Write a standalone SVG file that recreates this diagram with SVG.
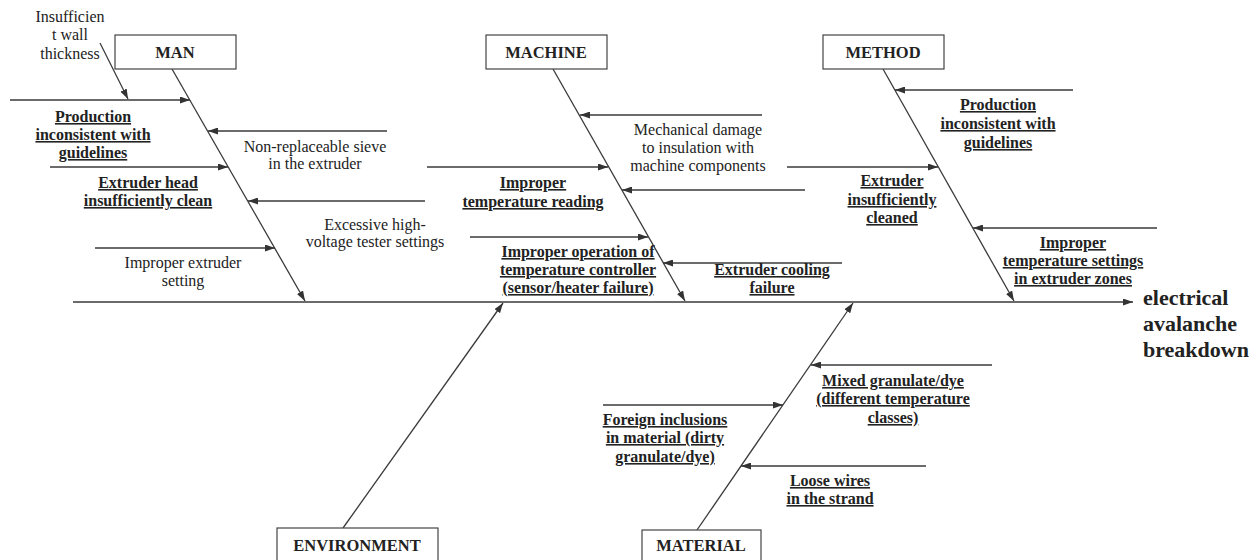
<svg xmlns="http://www.w3.org/2000/svg" width="1252" height="560" viewBox="0 0 1252 560">
<defs>
<marker id="ah" markerWidth="10" markerHeight="7" refX="10" refY="3.5" orient="auto" markerUnits="userSpaceOnUse">
<path d="M0,0 L10,3.5 L0,7 z" fill="#333"/>
</marker>
<style>
.ln{stroke:#3a3a3a;stroke-width:1.3;fill:none}
.ar{stroke:#3a3a3a;stroke-width:1.3;fill:none;marker-end:url(#ah)}
.box{fill:#fff;stroke:#444;stroke-width:1.2}
text{font-family:"Liberation Serif","Times New Roman",serif;fill:#222;text-anchor:middle}
.r{font-size:16px}
.b{font-size:16px;font-weight:bold;text-decoration:underline}
.h{font-size:16.5px;font-weight:bold}
.e{font-size:22px;font-weight:bold;text-anchor:start}
</style>
</defs>
<rect width="1252" height="560" fill="#fff"/>
<g id="connectors">
<line class="ar" x1="73" y1="302" x2="1133" y2="302"/>
<line class="ar" x1="172" y1="69" x2="305" y2="301"/>
<line class="ar" x1="553" y1="69" x2="685" y2="301"/>
<line class="ar" x1="883" y1="69" x2="1014" y2="301"/>
<line class="ar" x1="343" y1="528" x2="503" y2="303"/>
<line class="ar" x1="697" y1="530" x2="853" y2="303"/>
<line class="ar" x1="100" y1="43" x2="128" y2="99"/>
<line class="ar" x1="10" y1="100" x2="190" y2="100"/>
<line class="ar" x1="387" y1="131" x2="208" y2="131"/>
<line class="ar" x1="50" y1="167" x2="228" y2="167"/>
<line class="ar" x1="425" y1="201" x2="248" y2="201"/>
<line class="ar" x1="95" y1="248" x2="275" y2="248"/>
<line class="ar" x1="762" y1="115" x2="580" y2="115"/>
<line class="ar" x1="427" y1="167" x2="608" y2="167"/>
<line class="ar" x1="805" y1="190" x2="622" y2="190"/>
<line class="ar" x1="470" y1="237" x2="648" y2="237"/>
<line class="ar" x1="842" y1="263" x2="663" y2="263"/>
<line class="ar" x1="1073" y1="90" x2="895" y2="90"/>
<line class="ar" x1="787" y1="167" x2="938" y2="167"/>
<line class="ar" x1="1157" y1="228" x2="973" y2="228"/>
<line class="ar" x1="992" y1="365" x2="811" y2="365"/>
<line class="ar" x1="603" y1="405" x2="783" y2="405"/>
<line class="ar" x1="926" y1="466" x2="741" y2="466"/>
</g>
<g id="man">
<rect class="box" x="115" y="35" width="121" height="34"/>
<text class="h" x="175" y="58">MAN</text>
</g>
<g id="machine">
<rect class="box" x="486" y="35" width="121" height="34"/>
<text class="h" x="546" y="58">MACHINE</text>
</g>
<g id="method">
<rect class="box" x="823" y="35" width="121" height="34"/>
<text class="h" x="883" y="58">METHOD</text>
</g>
<g id="environment">
<rect class="box" x="277" y="528" width="161" height="40"/>
<text class="h" x="357" y="551">ENVIRONMENT</text>
</g>
<g id="material">
<rect class="box" x="642" y="530" width="119" height="40"/>
<text class="h" x="701" y="551">MATERIAL</text>
</g>
<g id="effect">
<text class="e" x="1143" y="305">electrical</text>
<text class="e" x="1143" y="331">avalanche</text>
<text class="e" x="1143" y="357">breakdown</text>
</g>
<g id="man-causes">
<text class="r" x="70" y="22">Insufficien</text>
<text class="r" x="70" y="40">t wall</text>
<text class="r" x="70" y="59">thickness</text>
<text class="b" x="93" y="122">Production</text>
<text class="b" x="93" y="140">inconsistent with</text>
<text class="b" x="93" y="158">guidelines</text>
<text class="r" x="315" y="152">Non-replaceable sieve</text>
<text class="r" x="315" y="169">in the extruder</text>
<text class="b" x="148" y="188">Extruder head</text>
<text class="b" x="148" y="206">insufficiently clean</text>
<text class="r" x="375" y="230">Excessive high-</text>
<text class="r" x="375" y="247">voltage tester settings</text>
<text class="r" x="183" y="268">Improper extruder</text>
<text class="r" x="183" y="286">setting</text>
</g>
<g id="machine-causes">
<text class="r" x="698" y="135">Mechanical damage</text>
<text class="r" x="698" y="153">to insulation with</text>
<text class="r" x="698" y="171">machine components</text>
<text class="b" x="533" y="188">Improper</text>
<text class="b" x="533" y="207">temperature reading</text>
<text class="b" x="578" y="257">Improper operation of</text>
<text class="b" x="578" y="275">temperature controller</text>
<text class="b" x="578" y="293">(sensor/heater failure)</text>
<text class="b" x="772" y="275">Extruder cooling</text>
<text class="b" x="772" y="293">failure</text>
</g>
<g id="method-causes">
<text class="b" x="998" y="110">Production</text>
<text class="b" x="998" y="129">inconsistent with</text>
<text class="b" x="998" y="148">guidelines</text>
<text class="b" x="892" y="186">Extruder</text>
<text class="b" x="892" y="205">insufficiently</text>
<text class="b" x="892" y="223">cleaned</text>
<text class="b" x="1073" y="248">Improper</text>
<text class="b" x="1073" y="266">temperature settings</text>
<text class="b" x="1073" y="284">in extruder zones</text>
</g>
<g id="material-causes">
<text class="b" x="893" y="386">Mixed granulate/dye</text>
<text class="b" x="893" y="404">(different temperature</text>
<text class="b" x="893" y="423">classes)</text>
<text class="b" x="665" y="425">Foreign inclusions</text>
<text class="b" x="665" y="443">in material (dirty</text>
<text class="b" x="665" y="462">granulate/dye)</text>
<text class="b" x="830" y="486">Loose wires</text>
<text class="b" x="830" y="504">in the strand</text>
</g>
</svg>
